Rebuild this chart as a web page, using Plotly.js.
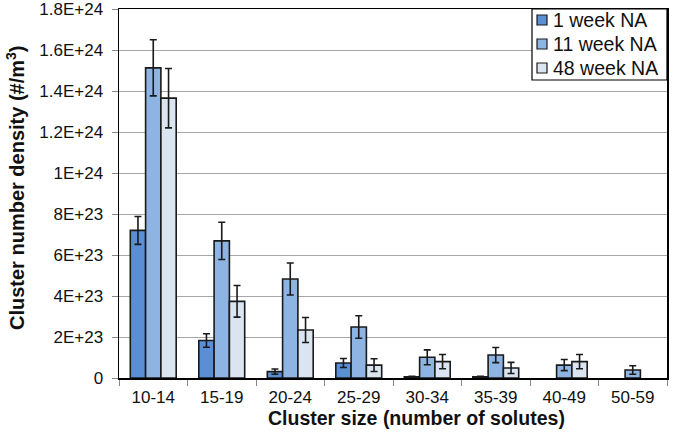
<!DOCTYPE html>
<html>
<head>
<meta charset="utf-8">
<script src="https://cdn.plot.ly/plotly-3.0.1.min.js"></script>
<style>html,body{margin:0;padding:0;background:#fff;}#chart{width:674px;height:442px;}</style>
</head>
<body>
<div id="chart"></div>
<script>
const categories = ["10-14","15-19","20-24","25-29","30-34","35-39","40-49","50-59"];
const week1 = [7.2e23, 1.83e23, 0.31e23, 0.73e23, 0.06e23, 0.06e23, null, null];
const week1Err = [0.68e23, 0.33e23, 0.13e23, 0.22e23, 0.02e23, 0.02e23, null, null];
const week11 = [1.513e24, 6.69e23, 4.83e23, 2.49e23, 1.01e23, 1.12e23, 0.63e23, 0.39e23];
const week11Err = [1.37e23, 0.91e23, 0.78e23, 0.55e23, 0.36e23, 0.37e23, 0.27e23, 0.21e23];
const week48 = [1.365e24, 3.74e23, 2.34e23, 0.63e23, 0.8e23, 0.49e23, 0.8e23, null];
const week48Err = [1.45e23, 0.77e23, 0.61e23, 0.31e23, 0.35e23, 0.27e23, 0.35e23, null];
const seriesNames = ["1 week NA", "11 week NA", "48 week NA"];
const yTickVals = [0, 2e23, 4e23, 6e23, 8e23, 1e24, 1.2e24, 1.4e24, 1.6e24, 1.8e24];
const yTickText = ["0", "2E+23", "4E+23", "6E+23", "8E+23", "1E+24", "1.2E+24", "1.4E+24", "1.6E+24", "1.8E+24"];
const xTitle = "Cluster size (number of solutes)";
const yTitle = "Cluster number density (#/m<sup>3</sup>)";

const colors = ["#5A8FD5", "#8EB4E3", "#DBE5F1"];
const vals = [week1, week11, week48];
const errs = [week1Err, week11Err, week48Err];

const traces = vals.map((v, i) => ({
  type: "bar",
  name: seriesNames[i],
  x: categories,
  y: v,
  marker: {color: colors[i], line: {color: "#1a1a1a", width: 1.6}},
  error_y: {type: "data", array: errs[i], visible: true, color: "#1a1a1a", thickness: 1.6, width: 3.5}
}));

const font = "Liberation Sans, Arial, sans-serif";

// plot area geometry (pixels) for legend / title placement
const W = 674, H = 442, mL = 119, mR = 7, mT = 9, mB = 64;
const pw = W - mL - mR, ph = H - mT - mB;
const px = x => (x - mL) / pw;
const py = y => (H - mB - y) / ph;

const shapes = [{
  type: "rect", xref: "paper", yref: "paper",
  x0: px(532), x1: px(667), y0: py(80), y1: py(9),
  fillcolor: "#fff", line: {color: "#000", width: 1.2}, layer: "above"
}];
const annotations = [];
const rowY = [20, 44, 68];
seriesNames.forEach((n, i) => {
  shapes.push({
    type: "rect", xref: "paper", yref: "paper",
    x0: px(537), x1: px(547), y0: py(rowY[i] + 5), y1: py(rowY[i] - 5),
    fillcolor: colors[i], line: {color: "#1a1a1a", width: 1.2}, layer: "above"
  });
  annotations.push({
    xref: "paper", yref: "paper", x: px(551), y: py(rowY[i]),
    xanchor: "left", yanchor: "middle", showarrow: false,
    text: n, font: {family: font, size: 19.5, color: "#111"}
  });
});
annotations.push({
  xref: "paper", yref: "paper", x: px(417), y: py(418),
  xanchor: "center", yanchor: "middle", showarrow: false,
  text: "<b>" + xTitle + "</b>", font: {family: font, size: 19.5, color: "#111"}
});
annotations.push({
  xref: "paper", yref: "paper", x: px(15), y: py(188),
  xanchor: "center", yanchor: "middle", showarrow: false, textangle: -90,
  text: "<b>" + yTitle + "</b>", font: {family: font, size: 20, color: "#111"}
});

const layout = {
  width: W, height: H,
  margin: {l: mL, r: mR, t: mT, b: mB},
  paper_bgcolor: "#fff", plot_bgcolor: "#fff",
  barmode: "group", bargap: 0.33, bargroupgap: 0,
  font: {family: font, size: 17, color: "#111"},
  showlegend: false,
  shapes: shapes,
  annotations: annotations,
  xaxis: {
    type: "category",
    showline: true, linecolor: "#000", linewidth: 1.5, mirror: true,
    ticks: "outside", tickson: "boundaries", ticklen: 6, tickcolor: "#888",
    ticklabelstandoff: 3,
    tickfont: {family: font, size: 17, color: "#111"},
    showgrid: false
  },
  yaxis: {
    range: [0, 1.8e24],
    tickvals: yTickVals, ticktext: yTickText,
    showline: true, linecolor: "#000", linewidth: 1.5, mirror: true,
    ticks: "outside", ticklen: 6, tickcolor: "#888",
    ticklabelstandoff: 5, ticklabeloverflow: "allow",
    showgrid: true, gridcolor: "#A6A6A6", gridwidth: 1,
    zeroline: false,
    tickfont: {family: font, size: 17, color: "#111"}
  }
};

Plotly.newPlot("chart", traces, layout, {displayModeBar: false, staticPlot: true});
</script>
</body>
</html>
